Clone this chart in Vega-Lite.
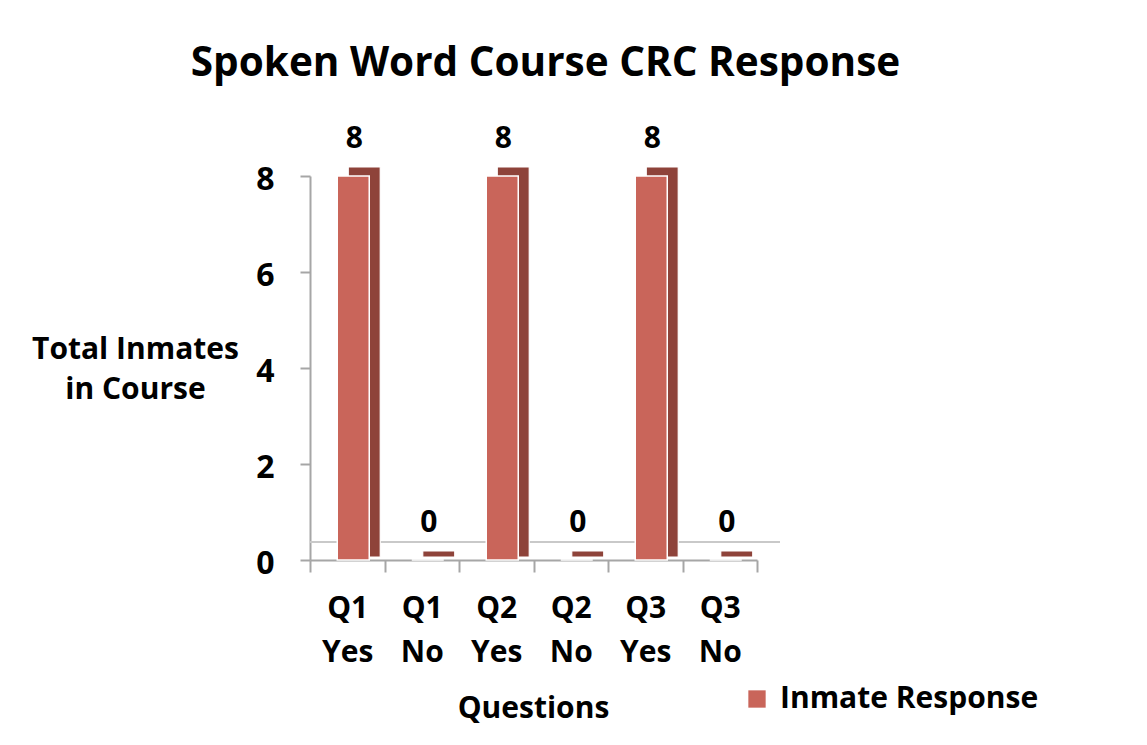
{
  "$schema": "https://vega.github.io/schema/vega-lite/v6.json",
  "width": 447,
  "height": 384,
  "autosize": "none",
  "padding": {"left": 310, "top": 176, "right": 390, "bottom": 185},
  "background": "white",
  "config": {"view": {"stroke": null}, "font": "Open Sans"},
  "title": {
    "text": "Spoken Word Course CRC Response",
    "font": "Open Sans",
    "fontSize": 40.5,
    "fontWeight": "bold",
    "color": "black",
    "anchor": "middle",
    "frame": "group",
    "baseline": "alphabetic",
    "dx": 12,
    "offset": 8
  },
  "data": {
    "values": [
      {"question": "Q1 Yes", "count": 8, "series": "Inmate Response"},
      {"question": "Q1 No", "count": 0, "series": "Inmate Response"},
      {"question": "Q2 Yes", "count": 8, "series": "Inmate Response"},
      {"question": "Q2 No", "count": 0, "series": "Inmate Response"},
      {"question": "Q3 Yes", "count": 8, "series": "Inmate Response"},
      {"question": "Q3 No", "count": 0, "series": "Inmate Response"}
    ]
  },
  "encoding": {
    "x": {
      "field": "question",
      "type": "nominal",
      "sort": null,
      "scale": {"paddingInner": 0, "paddingOuter": 0},
      "axis": {
        "title": "Questions",
        "titleFont": "Open Sans",
        "titleFontSize": 30,
        "titleFontWeight": "bold",
        "titleColor": "black",
        "titleBaseline": "alphabetic",
        "titleX": 223,
        "titleY": 157,
        "labelAngle": 0,
        "labelExpr": "split(datum.label, ' ')",
        "labelFont": "Open Sans",
        "labelFontSize": 30,
        "labelFontWeight": "bold",
        "labelColor": "black",
        "labelBaseline": "alphabetic",
        "labelLineHeight": 44,
        "labelPadding": 45,
        "tickBand": "extent",
        "tickSize": 12,
        "tickColor": "#A6A6A6",
        "tickWidth": 2,
        "domainColor": "#A6A6A6",
        "domainWidth": 2
      }
    },
    "y": {
      "field": "count",
      "type": "quantitative",
      "scale": {"domain": [0, 8], "nice": false},
      "axis": {
        "values": [0, 2, 4, 6, 8],
        "grid": false,
        "title": ["Total Inmates", "in Course"],
        "titleAngle": 0,
        "titleAlign": "center",
        "titleBaseline": "alphabetic",
        "titleX": -175,
        "titleY": 182,
        "titleLineHeight": 40,
        "titleFont": "Open Sans",
        "titleFontSize": 30,
        "titleFontWeight": "bold",
        "titleColor": "black",
        "labelFont": "Open Sans",
        "labelFontSize": 32,
        "labelFontWeight": "bold",
        "labelColor": "black",
        "labelPadding": 26,
        "labelOffset": 3,
        "tickSize": 10,
        "tickColor": "#A6A6A6",
        "tickWidth": 2,
        "domainColor": "#A6A6A6",
        "domainWidth": 2
      }
    }
  },
  "layer": [
    {
      "mark": {"type": "rule", "color": "#C8C8C8", "strokeWidth": 1.5, "yOffset": -18, "xOffset": 23},
      "encoding": {"x": null, "y": {"datum": 0}}
    },
    {
      "mark": {"type": "bar", "size": 32, "xOffset": 17, "yOffset": -9, "y2Offset": -3, "color": "#8E433A", "stroke": "white", "strokeWidth": 1.2},
      "encoding": {"y2": {"datum": 0}}
    },
    {
      "mark": {"type": "bar", "size": 32, "xOffset": 6, "stroke": "white", "strokeWidth": 1.5},
      "encoding": {
        "y2": {"datum": 0},
        "color": {
          "field": "series",
          "type": "nominal",
          "scale": {"range": ["#C9655A"]},
          "legend": {
            "title": null,
            "orient": "none",
            "legendX": 432,
            "legendY": 508,
            "symbolType": "square",
            "symbolSize": 300,
            "symbolStrokeWidth": 0,
            "labelFont": "Open Sans",
            "labelFontSize": 30,
            "labelFontWeight": "bold",
            "labelColor": "black",
            "labelOffset": 8,
            "labelLimit": 400
          }
        }
      }
    },
    {
      "mark": {"type": "text", "dx": 7, "dy": -28, "baseline": "alphabetic", "align": "center", "font": "Open Sans", "fontSize": 30, "fontWeight": "bold", "color": "black"},
      "encoding": {"text": {"field": "count", "type": "quantitative"}}
    }
  ]
}
